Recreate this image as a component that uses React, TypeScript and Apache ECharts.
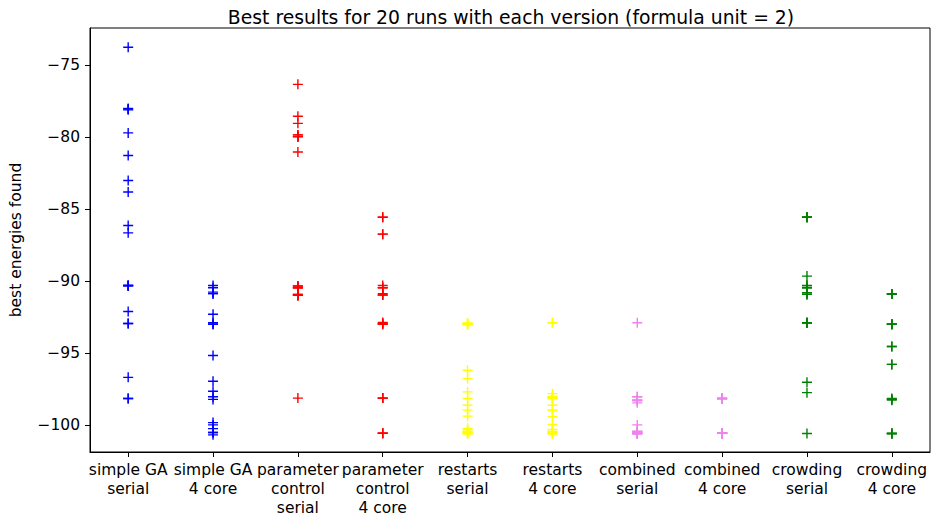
import React, { useEffect, useRef } from "react";
import * as echarts from "echarts";

const categories = [
  "simple GA\nserial",
  "simple GA\n4 core",
  "parameter\ncontrol\nserial",
  "parameter\ncontrol\n4 core",
  "restarts\nserial",
  "restarts\n4 core",
  "combined\nserial",
  "combined\n4 core",
  "crowding\nserial",
  "crowding\n4 core",
];

const colors = ["#0000ff", "#0000ff", "#ff0000", "#ff0000", "#ffff00", "#ffff00", "#ee82ee", "#ee82ee", "#008000", "#008000"];

const simpleGASerial = [-73.76, -78.0, -78.1, -78.05, -79.7, -81.27, -83.0, -83.8, -86.13, -86.64, -90.29, -90.29, -90.32, -90.29, -92.1, -92.93, -92.93, -96.67, -98.14, -98.14];
const simpleGA4Core = [-90.29, -90.45, -90.75, -90.86, -90.86, -92.29, -92.88, -92.98, -92.98, -95.15, -96.94, -97.63, -98.02, -98.2, -99.81, -99.97, -100.23, -100.5, -100.5, -100.66];
const paramSerial = [-76.33, -78.55, -79.04, -79.84, -79.96, -79.96, -81.03, -90.33, -90.45, -90.45, -90.91, -90.98, -90.98, -98.11, -90.33, -90.91, -79.84, -90.45, -90.98, -79.96];
const param4Core = [-85.56, -85.56, -86.73, -86.73, -90.29, -90.45, -90.45, -90.86, -90.95, -90.95, -92.86, -92.98, -92.98, -92.92, -98.11, -98.11, -98.11, -100.55, -100.55, -100.55];
const restartsSerial = [-92.93, -93.02, -92.95, -92.98, -96.18, -96.76, -97.68, -98.14, -98.6, -98.94, -99.36, -100.21, -100.43, -100.43, -100.59, -100.59, -100.5, -100.3, -100.5, -92.9];
const restarts4Core = [-92.88, -92.88, -97.8, -98.02, -98.02, -98.14, -98.14, -98.6, -98.94, -98.94, -99.4, -99.93, -100.28, -100.43, -100.43, -100.59, -100.59, -100.5, -98.08, -100.5];
const combinedSerial = [-92.88, -98.02, -98.25, -98.44, -98.25, -99.97, -100.43, -100.59, -100.59, -100.5, -100.5, -100.43, -98.02, -98.25, -100.55, -100.55, -100.59, -100.43, -98.3, -100.5];
const combined4Core = [-98.14, -98.14, -98.14, -98.14, -98.14, -98.14, -100.55, -100.55, -100.55, -100.55, -100.55, -100.55, -100.55, -100.55, -100.55, -100.55, -100.55, -100.55, -100.55, -100.55];
const crowdingSerial = [-85.56, -85.56, -85.56, -89.64, -90.29, -90.45, -90.79, -90.91, -90.91, -90.45, -92.88, -92.88, -92.88, -92.88, -97.01, -97.73, -100.57, -90.8, -90.3, -85.56];
const crowding4Core = [-90.88, -90.88, -90.88, -90.88, -92.98, -92.98, -92.98, -92.98, -94.53, -94.53, -95.77, -95.77, -98.14, -98.25, -98.2, -98.2, -100.57, -100.57, -100.57, -100.57];

const seriesValues = [simpleGASerial, simpleGA4Core, paramSerial, param4Core, restartsSerial, restarts4Core, combinedSerial, combined4Core, crowdingSerial, crowding4Core];

const yTicks = [-100, -95, -90, -85, -80, -75];
const xTicks = categories.map((_, i) => i);

const FONT = "DejaVu Sans";
const TICK_SIZE = 15.5;

export default function App() {
  const ref = useRef<HTMLDivElement>(null);
  useEffect(() => {
    if (!ref.current) return;
    const chart = echarts.init(ref.current, null, { renderer: "svg" });
    chart.setOption({
      animation: false,
      backgroundColor: "#ffffff",
      title: {
        text: "Best results for 20 runs with each version (formula unit = 2)",
        left: 506,
        top: 3,
        textAlign: "center",
        textStyle: { fontFamily: FONT, fontSize: 18.8, fontWeight: "normal", color: "#000" },
      },
      grid: { left: 82, right: 1, top: 28, bottom: 62, show: true, borderColor: "#000", borderWidth: 1, backgroundColor: "transparent" },
      xAxis: {
        type: "value",
        min: -0.45,
        max: 9.45,
        splitLine: { show: false },
        axisLine: { show: true, onZero: false, lineStyle: { color: "#000", width: 1 } },
        axisTick: { show: true, length: 5, customValues: xTicks, lineStyle: { color: "#000" } },
        axisLabel: {
          customValues: xTicks,
          formatter: (v: number) => categories[Math.round(v)] ?? "",
          fontFamily: FONT,
          fontSize: TICK_SIZE,
          color: "#000",
          lineHeight: 19,
          margin: 8,
          align: "center",
        },
      },
      yAxis: {
        type: "value",
        min: -101.85,
        max: -72.42,
        name: "best energies found",
        nameLocation: "middle",
        nameGap: 66,
        nameTextStyle: { fontFamily: FONT, fontSize: TICK_SIZE, color: "#000" },
        splitLine: { show: false },
        axisLine: { show: true, onZero: false, lineStyle: { color: "#000", width: 1 } },
        axisTick: { show: true, length: 5, customValues: yTicks, lineStyle: { color: "#000" } },
        axisLabel: {
          customValues: yTicks,
          formatter: (v: number) => String(v).replace("-", "\u2212"),
          fontFamily: FONT,
          fontSize: TICK_SIZE,
          color: "#000",
          margin: 10,
        },
      },
      series: seriesValues.map((vals, i) => ({
        type: "scatter",
        data: vals.map((v) => [i, v]),
        symbol: "path://M0,5L10,5M5,0L5,10",
        symbolSize: 10,
        itemStyle: { color: colors[i], borderColor: colors[i], borderWidth: 1.4, opacity: 1 },
        emphasis: { disabled: true },
      })),
    });
    return () => chart.dispose();
  }, []);
  return <div ref={ref} style={{ width: 931, height: 517, position: "absolute", left: 0, top: 0 }} />;
}
